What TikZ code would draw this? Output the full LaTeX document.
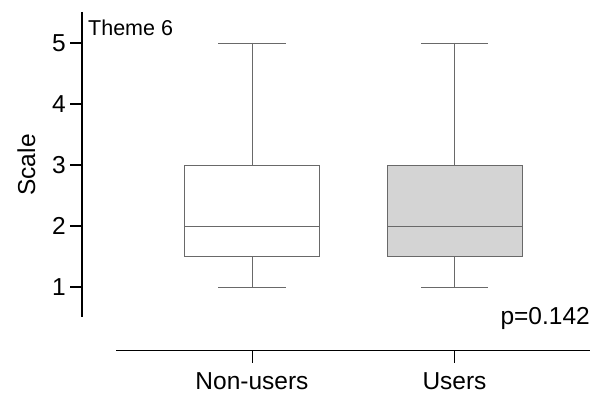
\documentclass[tikz,border=0pt]{standalone}
\usepackage{fontspec}
\setmainfont{Liberation Sans}
\begin{document}
\begin{tikzpicture}[x=1pt,y=-1pt,
  axisline/.style={line width=1.6pt,black},
  boxline/.style={line width=0.9pt,draw={rgb,255:red,105;green,105;blue,105}},
  lbl/.style={inner sep=0pt,font=\fontsize{24.5}{28}\selectfont},
  ticklbl/.style={lbl,anchor=east},
]
\useasboundingbox[fill=white] (0,0) rectangle (612,395);
% y axis
\coordinate (ytop) at (82,12);
\coordinate (ybot) at (82,317);
\draw[axisline] (ytop) -- (ybot);
\foreach \v/\y in {5/43,4/104,3/165,2/226,1/287}{
  \coordinate (t\v) at (82,\y);
  \coordinate (tl\v) at (70,\y);
  \draw[axisline] (t\v) -- (tl\v);
  \node[ticklbl] (lab\v) at (66,\y) {\v};
}
\node[lbl,rotate=90,anchor=base] (scale) at (35,165) {Scale};
\node[inner sep=0pt,anchor=base west,font=\fontsize{21.5}{25}\selectfont] (theme) at (88,36) {Theme 6};
% x axis
\coordinate (xl) at (116,350.5);
\coordinate (xr) at (590,350.5);
\draw[axisline] (xl) -- (xr);
\coordinate (xa) at (252,350.5);
\coordinate (xa2) at (252,363);
\coordinate (xb) at (454.5,350.5);
\coordinate (xb2) at (454.5,363);
\draw[line width=1pt] (xa) -- (xa2);
\draw[line width=1pt] (xb) -- (xb2);
\node[lbl,anchor=base] (nonusers) at (252,389) {Non-users};
\node[lbl,anchor=base] (users) at (454.5,389) {Users};
\node[lbl,anchor=base east] (pval) at (590,324) {p=0.142};
% box 1
\coordinate (w1top) at (252,43);
\coordinate (w1q3) at (252,165);
\coordinate (w1q1) at (252,256);
\coordinate (w1bot) at (252,287);
\coordinate (c1tl) at (218,43);
\coordinate (c1tr) at (286,43);
\coordinate (c1bl) at (218,287);
\coordinate (c1br) at (286,287);
\draw[boxline] (w1top) -- (w1q3);
\draw[boxline] (w1q1) -- (w1bot);
\draw[boxline] (c1tl) -- (c1tr);
\draw[boxline] (c1bl) -- (c1br);
\draw[boxline,fill=white] (184,165) rectangle (319,256);
\coordinate (m1l) at (184,226);
\coordinate (m1r) at (319,226);
\draw[boxline] (m1l) -- (m1r);
% box 2
\coordinate (w2top) at (454.5,43);
\coordinate (w2q3) at (454.5,165);
\coordinate (w2q1) at (454.5,256);
\coordinate (w2bot) at (454.5,287);
\coordinate (c2tl) at (421,43);
\coordinate (c2tr) at (488,43);
\coordinate (c2bl) at (421,287);
\coordinate (c2br) at (488,287);
\draw[boxline] (w2top) -- (w2q3);
\draw[boxline] (w2q1) -- (w2bot);
\draw[boxline] (c2tl) -- (c2tr);
\draw[boxline] (c2bl) -- (c2br);
\draw[boxline,fill={rgb,255:red,212;green,212;blue,212}] (387.5,165) rectangle (522,256);
\coordinate (m2l) at (387.5,226);
\coordinate (m2r) at (522,226);
\draw[boxline] (m2l) -- (m2r);
\end{tikzpicture}
\end{document}
